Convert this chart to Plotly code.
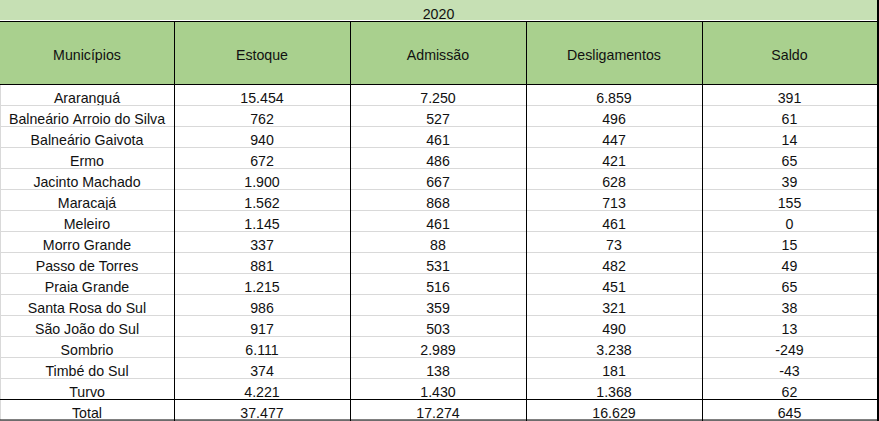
import plotly.graph_objects as go

year = "2020"
columns = ["Municípios", "Estoque", "Admissão", "Desligamentos", "Saldo"]
municipios = ["Araranguá", "Balneário Arroio do Silva", "Balneário Gaivota", "Ermo",
              "Jacinto Machado", "Maracajá", "Meleiro", "Morro Grande", "Passo de Torres",
              "Praia Grande", "Santa Rosa do Sul", "São João do Sul", "Sombrio",
              "Timbé do Sul", "Turvo", "Total"]
estoque = [15454, 762, 940, 672, 1900, 1562, 1145, 337, 881, 1215, 986, 917, 6111, 374, 4221, 37477]
admissao = [7250, 527, 461, 486, 667, 868, 461, 88, 531, 516, 359, 503, 2989, 138, 1430, 17274]
desligamentos = [6859, 496, 447, 421, 628, 713, 461, 73, 482, 451, 321, 490, 3238, 181, 1368, 16629]
saldo = [391, 61, 14, 65, 39, 155, 0, 15, 49, 65, 38, 13, -249, -43, 62, 645]

W, H = 879, 421
col_edges = [0, 174, 350, 526, 702, 877]
title_h, header_h, row_h = 21, 63, 21

def br(n):
    # thousands separator as in pt-BR
    return f"{n:,}".replace(",", ".")

def nowrap(s):
    return s.replace(" ", "\u00a0")

font = dict(family="Liberation Sans", size=14.2, color="#111111")
title_green = "#c6e0b4"
header_green = "#a9d08e"

fig = go.Figure()

fig.add_trace(go.Table(
    domain=dict(x=[0, 877 / W], y=[1 - title_h / H, 1]),
    header=dict(values=[year], fill_color=title_green, height=title_h,
                line=dict(color=title_green, width=1), font=font, align="center"),
    cells=dict(values=[[]], height=1, line=dict(width=0)),
))

fig.add_trace(go.Table(
    domain=dict(x=[0, 877 / W], y=[0, 1 - title_h / H]),
    columnwidth=[col_edges[i + 1] - col_edges[i] for i in range(5)],
    header=dict(values=["\u00a0<br>" + c for c in columns], fill_color=header_green,
                height=header_h, line=dict(color=header_green, width=1),
                font=font, align="center"),
    cells=dict(values=[[nowrap(m) for m in municipios],
                       [br(v) for v in estoque],
                       [br(v) for v in admissao],
                       [br(v) for v in desligamentos],
                       [br(v) for v in saldo]],
               fill_color="#ffffff", height=row_h,
               line=dict(color="#d9d9d9", width=1), font=font, align="center"),
))

def py(px):
    return 1 - px / H

black = dict(color="#000000", width=1)
shapes = []
# inner column borders
for x in col_edges[1:-1]:
    shapes.append(dict(type="line", xref="paper", yref="paper",
                       x0=(x + 0.5) / W, x1=(x + 0.5) / W,
                       y0=0, y1=py(title_h), line=black))
# right edge, full height
shapes.append(dict(type="line", xref="paper", yref="paper",
                   x0=878 / W, x1=878 / W, y0=0, y1=1,
                   line=dict(color="#000000", width=2)))
# horizontal black rules: under title, under header, above total, bottom
for y in [title_h, title_h + header_h, title_h + header_h + row_h * 15, H - 1.5]:
    shapes.append(dict(type="line", xref="paper", yref="paper", x0=0, x1=878 / W,
                       y0=py(y + 0.5), y1=py(y + 0.5), line=black))

fig.update_layout(width=W, height=H, margin=dict(l=0, r=0, t=0, b=0),
                  paper_bgcolor="#ffffff", shapes=shapes)

fig.write_html("out.html", config={"displayModeBar": False},
               post_script="document.body.style.margin='0';")
